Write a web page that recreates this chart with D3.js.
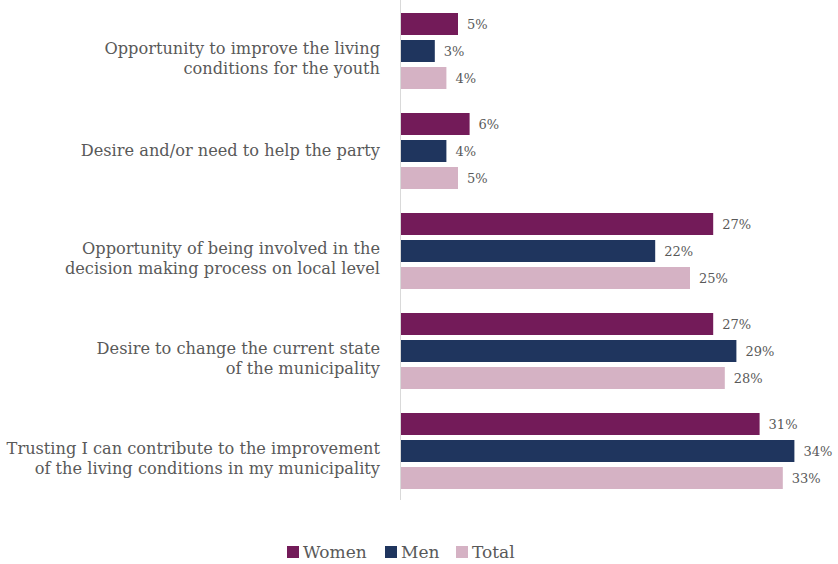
<!DOCTYPE html>
<html>
<head>
<meta charset="utf-8">
<script src="https://cdn.jsdelivr.net/npm/d3@7/dist/d3.min.js"></script>
<style>
  html, body { margin: 0; padding: 0; background: #fff; }
  svg { display: block; font-family: "DejaVu Serif", "Liberation Serif", serif; }
</style>
</head>
<body>
<svg id="chart" width="838" height="564"></svg>
<script>
// Motivations for candidacy, share of respondents (%)
const categories = [
  ["Opportunity to improve the living", "conditions for the youth"],
  ["Desire and/or need to help the party"],
  ["Opportunity of being involved in the", "decision making process on local level"],
  ["Desire to change the current state", "of the municipality"],
  ["Trusting I can contribute to the improvement", "of the living conditions in my municipality"]
];
const seriesNames = ["Women", "Men", "Total"];
const women = [5, 6, 27, 27, 31];
const men = [3, 4, 22, 29, 34];
const total = [4, 5, 25, 28, 33];
const seriesValues = [women, men, total];
const colors = ["#731B59", "#1F355E", "#D5B2C4"];

const svg = d3.select("#chart");
const axisX = 400;

const x = d3.scaleLinear().domain([0, 36]).range([axisX, axisX + 36 * 11.6]);
const y0 = d3.scaleBand().domain(d3.range(categories.length)).range([1, 501]).paddingInner(0.24).paddingOuter(0.12);
const y1 = d3.scaleBand().domain(d3.range(seriesNames.length)).range([0, y0.bandwidth()]).paddingInner(5 / 27);

const groups = svg.selectAll("g.cat")
  .data(categories)
  .join("g")
  .attr("class", "cat")
  .attr("transform", (d, i) => `translate(0,${y0(i)})`);

groups.each(function (d, i) {
  const g = d3.select(this);
  seriesValues.forEach((vals, s) => {
    g.append("rect")
      .attr("x", x(0) + 1)
      .attr("y", y1(s))
      .attr("width", x(vals[i]) - x(0) - 1)
      .attr("height", y1.bandwidth())
      .attr("fill", colors[s]);
    g.append("text")
      .attr("x", x(vals[i]) + 9)
      .attr("y", y1(s) + y1.bandwidth() / 2)
      .attr("dy", "0.35em")
      .attr("font-size", 13)
      .attr("fill", "#595959")
      .text(vals[i] + "%");
  });
  const mid = y0.bandwidth() / 2;
  const lh = 20;
  const first = d.length > 1 ? mid + 3 : mid + 4.5;
  const t = g.append("text")
    .attr("text-anchor", "end")
    .attr("font-size", 16.2)
    .attr("fill", "#595959");
  d.forEach((line, k) => {
    t.append("tspan")
      .attr("x", 380)
      .attr("y", first + k * lh)
      .text(line);
  });
});

// category axis line
svg.append("line")
  .attr("x1", axisX + 0.5).attr("x2", axisX + 0.5)
  .attr("y1", 0).attr("y2", 500)
  .attr("stroke", "#d9d9d9").attr("stroke-width", 1);

// legend
const legendX = [287, 385, 456];
const legend = svg.selectAll("g.legend")
  .data(seriesNames)
  .join("g")
  .attr("class", "legend")
  .attr("transform", (d, i) => `translate(${legendX[i]},546)`);
legend.append("rect")
  .attr("x", 0).attr("y", 0)
  .attr("width", 12).attr("height", 12)
  .attr("fill", (d, i) => colors[i]);
legend.append("text")
  .attr("x", 16).attr("y", 6)
  .attr("dy", "0.35em")
  .attr("font-size", 17)
  .attr("fill", "#595959")
  .text(d => d);
</script>
</body>
</html>
